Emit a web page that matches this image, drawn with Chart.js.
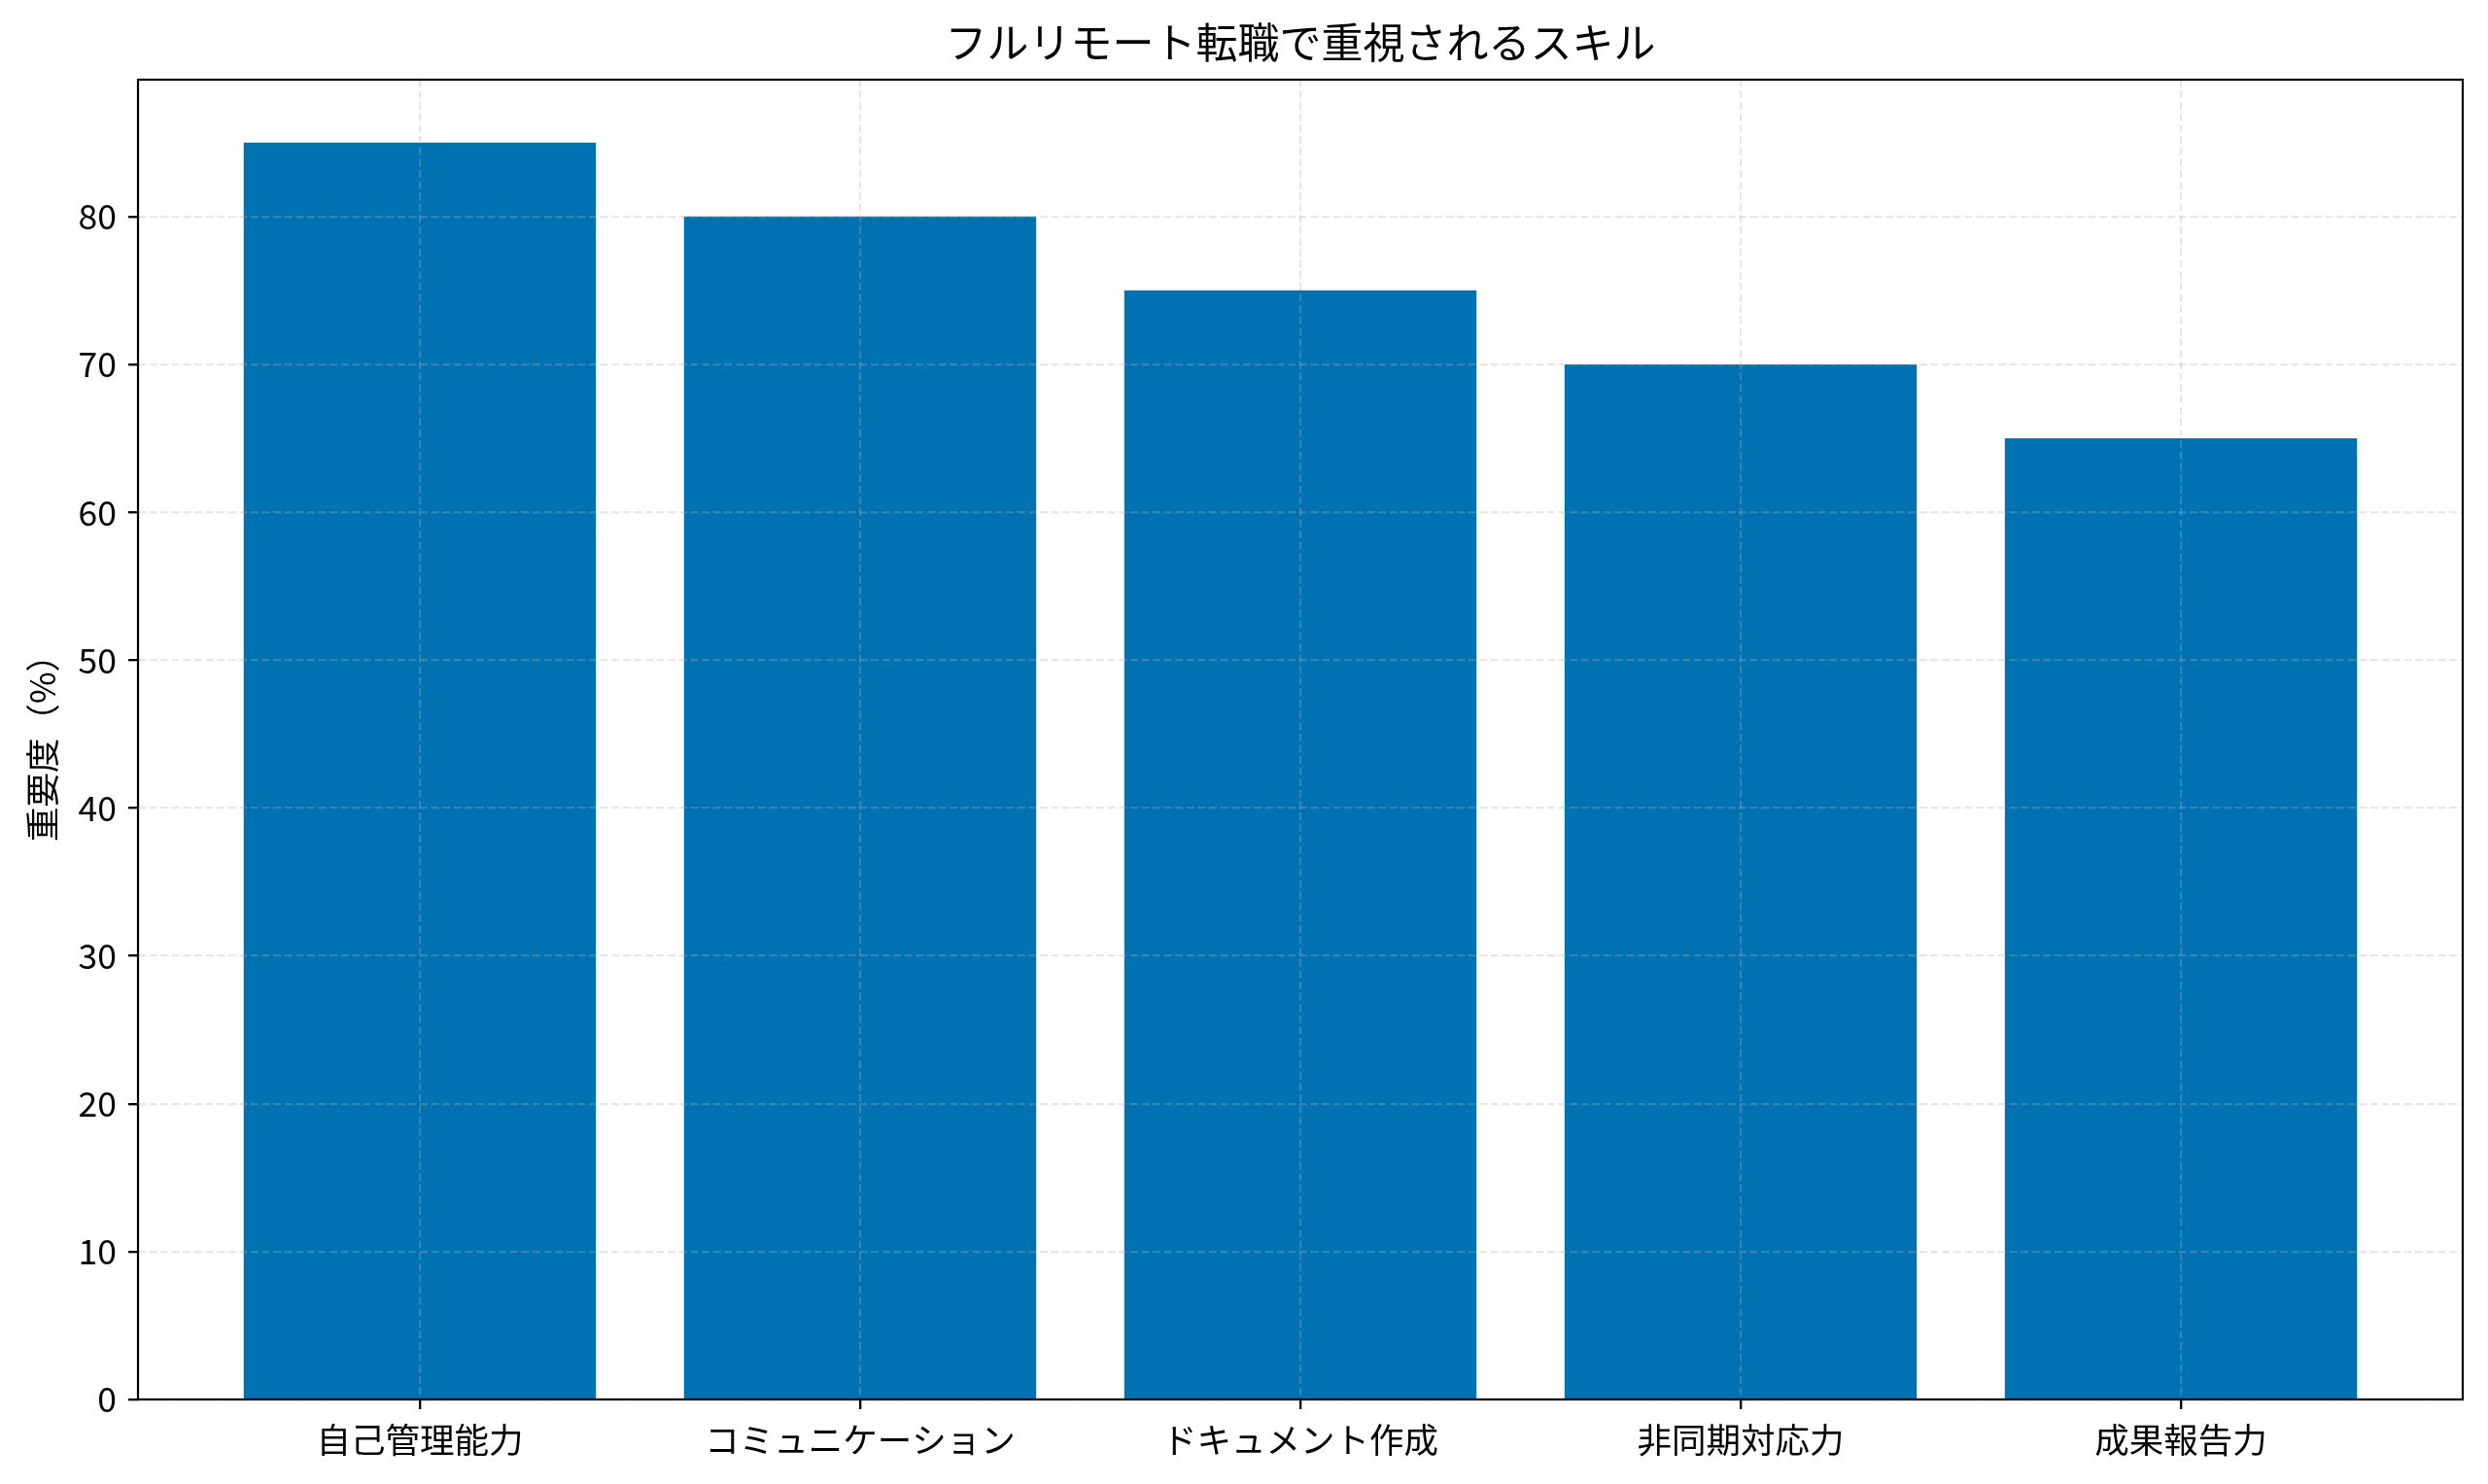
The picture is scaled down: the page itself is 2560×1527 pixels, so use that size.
<!DOCTYPE html>
<html><head><meta charset="utf-8">
<script src="https://cdn.jsdelivr.net/npm/chart.js@4.4.0/dist/chart.umd.min.js"></script>
<style>html,body{margin:0;padding:0;background:#fff}#wrap{width:2560px;height:1527px}</style>
</head><body><div id="wrap"><canvas id="c" width="2560" height="1527"></canvas></div>
<script>
const categories = ["自己管理能力","コミュニケーション","ドキュメント作成","非同期対応力","成果報告力"];
const values = [85, 80, 75, 70, 65];
const yTicks = [0,10,20,30,40,50,60,70,80];
const titleText = "フルリモート転職で重視されるスキル";
const yLabel = "重要度（%）";

const FONT = "'Noto Sans CJK JP', 'Noto Sans', sans-serif";
const PLOT = {left:142, right:2534, top:82, bottom:1440};
const gridColor = 'rgba(176,176,176,0.3)';
let gridPass = false;
const gridColorFn = () => gridPass ? gridColor : 'rgba(0,0,0,0)';

const overlay = {
  id:'overlay',
  afterDatasetsDraw(chart){
    const ctx = chart.ctx, a = chart.chartArea;
    gridPass = true;
    ['x','y'].forEach(k => { const s = chart.scales[k]; s._gridLineItems = null; s.drawGrid(a); s._gridLineItems = null; });
    gridPass = false;
    ctx.save();
    ctx.strokeStyle = '#000'; ctx.lineWidth = 2.2;
    ctx.strokeRect(a.left, a.top, a.right - a.left, a.bottom - a.top);
    ctx.restore();
  }
};

Chart.defaults.devicePixelRatio = 1;
new Chart(document.getElementById('c'), {
  type:'bar',
  data:{ datasets:[{
    data: values.map((v,i)=>({x:i, y:v})),
    backgroundColor:'#0072B2', borderWidth:0,
    barPercentage:0.8, categoryPercentage:1.0
  }]},
  options:{
    responsive:false, animation:false,
    layout:{padding:{left:0, right:2560-PLOT.right, top:0, bottom:0}},
    plugins:{ legend:{display:false}, tooltip:{enabled:false}, title:{display:false} },
    scales:{
      x:{ type:'linear', min:-0.64, max:4.64, offset:false,
        afterBuildTicks(s){ s.ticks = categories.map((c,i)=>({value:i})); },
        afterFit(s){ s.height = 1527 - PLOT.bottom; },
        ticks:{ callback:(v)=>categories[v] ?? '', color:'#000', padding:10, maxRotation:0, autoSkip:false,
          font:{family:FONT, size:35.5} },
        grid:{ offset:false, color:gridColorFn, lineWidth:2.2, drawTicks:true, tickLength:10,
          tickColor:'#000', tickWidth:2.2, tickBorderDash:[] },
        border:{display:false, dash:[8,3.6]}
      },
      x2:{ type:'linear', position:'top', min:-0.64, max:4.64, offset:false,
        afterFit(s){ s.height = PLOT.top; },
        ticks:{ display:false }, grid:{ display:false, drawTicks:false }, border:{display:false},
        title:{ display:true, text:titleText, color:'#000', font:{family:FONT, size:43, weight:'normal'},
          padding:{top:18.2, bottom:0} }
      },
      y:{ min:0, max:89.25,
        afterBuildTicks(s){ s.ticks = yTicks.map(v=>({value:v})); },
        afterFit(s){ s.width = PLOT.left; },
        ticks:{ color:'#000', padding:12, font:{family:FONT, size:35.5} },
        grid:{ color:gridColorFn, lineWidth:2.2, drawTicks:true, tickLength:10,
          tickColor:'#000', tickWidth:2.2, tickBorderDash:[] },
        border:{display:false, dash:[8,3.6]},
        title:{ display:true, text:yLabel, color:'#000', font:{family:FONT, size:35.5}, padding:{top:22.6, bottom:0} }
      }
    }
  },
  plugins:[overlay]
});
</script></body></html>
